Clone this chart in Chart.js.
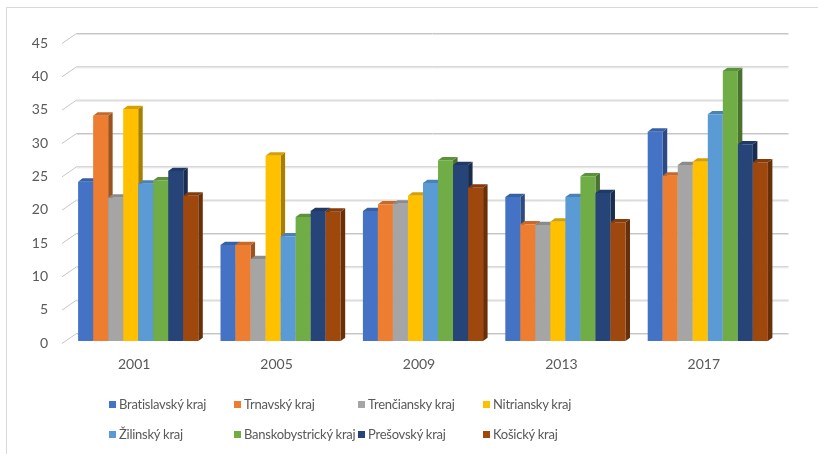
<!DOCTYPE html>
<html>
<head>
<meta charset="utf-8">
<script src="https://cdn.jsdelivr.net/npm/chart.js@4.4.1/dist/chart.umd.min.js"></script>
<style>
  html, body { margin: 0; padding: 0; background: #fff; }
  #wrap { position: relative; width: 818px; height: 454px; overflow: hidden; }
  #frame { position: absolute; left: 6px; top: 7px; width: 900px; height: 500px;
           border-left: 1px solid #d9d9d9; border-top: 1px solid #d9d9d9; }
  canvas { position: absolute; left: 0; top: 0; }
  .lg { position: absolute; font-family: Lato, "Open Sans", sans-serif; font-size: 13px;
        letter-spacing: -0.25px; color: #595959; white-space: nowrap; line-height: 14px; }
  .lg i { position: absolute; left: 0; top: 4px; width: 7px; height: 7px; }
  .lg span { position: absolute; left: 10px; top: 0; }
</style>
</head>
<body>
<div id="wrap">
  <div id="frame"></div>
  <canvas id="chart" width="818" height="454"></canvas>
  <div id="legend"></div>
</div>
<script>
const years = ["2001", "2005", "2009", "2013", "2017"];
const regions = ["Bratislavský kraj", "Trnavský kraj", "Trenčiansky kraj", "Nitriansky kraj",
                 "Žilinský kraj", "Banskobystrický kraj", "Prešovský kraj", "Košický kraj"];
const colors = ["#4472C4", "#ED7D31", "#A5A5A5", "#FFC000", "#5B9BD5", "#70AD47", "#264478", "#9E480E"];

const bratislavsky = [23.9, 14.4, 19.5, 21.6, 31.4];
const trnavsky = [33.8, 14.4, 20.5, 17.5, 24.8];
const trenciansky = [21.5, 12.3, 20.6, 17.4, 26.4];
const nitriansky = [34.8, 27.8, 21.8, 17.9, 26.9];
const zilinsky = [23.6, 15.7, 23.7, 21.6, 34.0];
const banskobystricky = [24.1, 18.6, 27.1, 24.7, 40.5];
const presovsky = [25.5, 19.5, 26.4, 22.2, 29.5];
const kosicky = [21.8, 19.4, 23.0, 17.8, 26.8];

const series = [bratislavsky, trnavsky, trenciansky, nitriansky, zilinsky, banskobystricky, presovsky, kosicky];
const yTicks = [0, 5, 10, 15, 20, 25, 30, 35, 40, 45];

// depth of one bar and of the whole floor (oblique projection)
const DX = 4.5, DY = -3.3;
const WALL_DX = 9.5, WALL_DY = -8;

const shade = (hex, f) => {
  const n = parseInt(hex.slice(1), 16);
  const r = Math.round(((n >> 16) & 255) * f);
  const g = Math.round(((n >> 8) & 255) * f);
  const b = Math.round((n & 255) * f);
  return `rgb(${r},${g},${b})`;
};

const drawWall = (chart) => {
  const ctx = chart.ctx;
  const y = chart.scales.y;
  const area = chart.chartArea;
  ctx.save();
  ctx.lineWidth = 1;
  yTicks.forEach(v => {
    const py = y.getPixelForValue(v);
    ctx.strokeStyle = "#c6c6c6";
    ctx.beginPath();
    ctx.moveTo(area.left - 5, py + 2.5);
    ctx.lineTo(area.left + WALL_DX, py + WALL_DY + 0.5);
    ctx.lineTo(area.right + WALL_DX, py + WALL_DY + 0.5);
    ctx.stroke();
    ctx.strokeStyle = "#e4e4e4";
    ctx.beginPath();
    ctx.moveTo(area.left + WALL_DX, py + WALL_DY + 1.5);
    ctx.lineTo(area.right + WALL_DX, py + WALL_DY + 1.5);
    ctx.stroke();
  });
  ctx.restore();
};

// draws the wall, then every bar left to right: side, top, then the front face
const bars3d = {
  id: "bars3d",
  beforeDatasetsDraw(chart) {
    const ctx = chart.ctx;
    drawWall(chart);
    ctx.save();
    chart.data.datasets.forEach((ds, i) => {
      const meta = chart.getDatasetMeta(i);
      const col = ds.backgroundColor;
      meta.data.forEach(bar => {
        const { x, y, base, width } = bar.getProps(["x", "y", "base", "width"], true);
        const l = x - width / 2, r = x + width / 2;
        ctx.fillStyle = shade(col, 0.66);
        ctx.beginPath();
        ctx.moveTo(r, y);
        ctx.lineTo(r + DX, y + DY);
        ctx.lineTo(r + DX, base + DY);
        ctx.lineTo(r, base);
        ctx.closePath();
        ctx.fill();
        ctx.fillStyle = shade(col, 0.84);
        ctx.beginPath();
        ctx.moveTo(l, y);
        ctx.lineTo(l + DX, y + DY);
        ctx.lineTo(r + DX, y + DY);
        ctx.lineTo(r, y);
        ctx.closePath();
        ctx.fill();
        bar.draw(ctx, chart.chartArea);
      });
    });
    ctx.restore();
    return false;
  }
};

const axisFont = { family: "Lato, 'Open Sans', sans-serif", size: 14 };

new Chart(document.getElementById("chart"), {
  type: "bar",
  data: {
    labels: years,
    datasets: regions.map((name, i) => ({
      label: name,
      data: series[i],
      backgroundColor: colors[i],
      borderWidth: 0,
      categoryPercentage: 0.844,
      barPercentage: 1.0
    }))
  },
  options: {
    responsive: false,
    animation: false,
    layout: { padding: { top: 41, right: 39, bottom: 0, left: 0 } },
    plugins: { legend: { display: false }, tooltip: { enabled: false } },
    scales: {
      x: {
        grid: { display: false, drawTicks: false },
        border: { display: false },
        ticks: { color: "#595959", font: axisFont, padding: 15, labelOffset: -4 },
        afterFit: (s) => { s.height = 113; }
      },
      y: {
        min: 0,
        max: 45,
        grid: { display: false, drawTicks: false },
        border: { display: false },
        ticks: { stepSize: 5, color: "#595959", font: axisFont, padding: 19, labelOffset: 2 },
        afterFit: (s) => { s.width = 67; }
      }
    }
  },
  plugins: [bars3d]
});

// legend laid out in Excel-like columns
const legendCols = [109, 234, 358, 483];
const legendRows = [397, 427];
const legend = document.getElementById("legend");
regions.forEach((name, i) => {
  const d = document.createElement("div");
  d.className = "lg";
  d.style.left = legendCols[i % 4] + "px";
  d.style.top = legendRows[Math.floor(i / 4)] + "px";
  d.innerHTML = `<i style="background:${colors[i]}"></i><span>${name}</span>`;
  legend.appendChild(d);
});
</script>
</body>
</html>
